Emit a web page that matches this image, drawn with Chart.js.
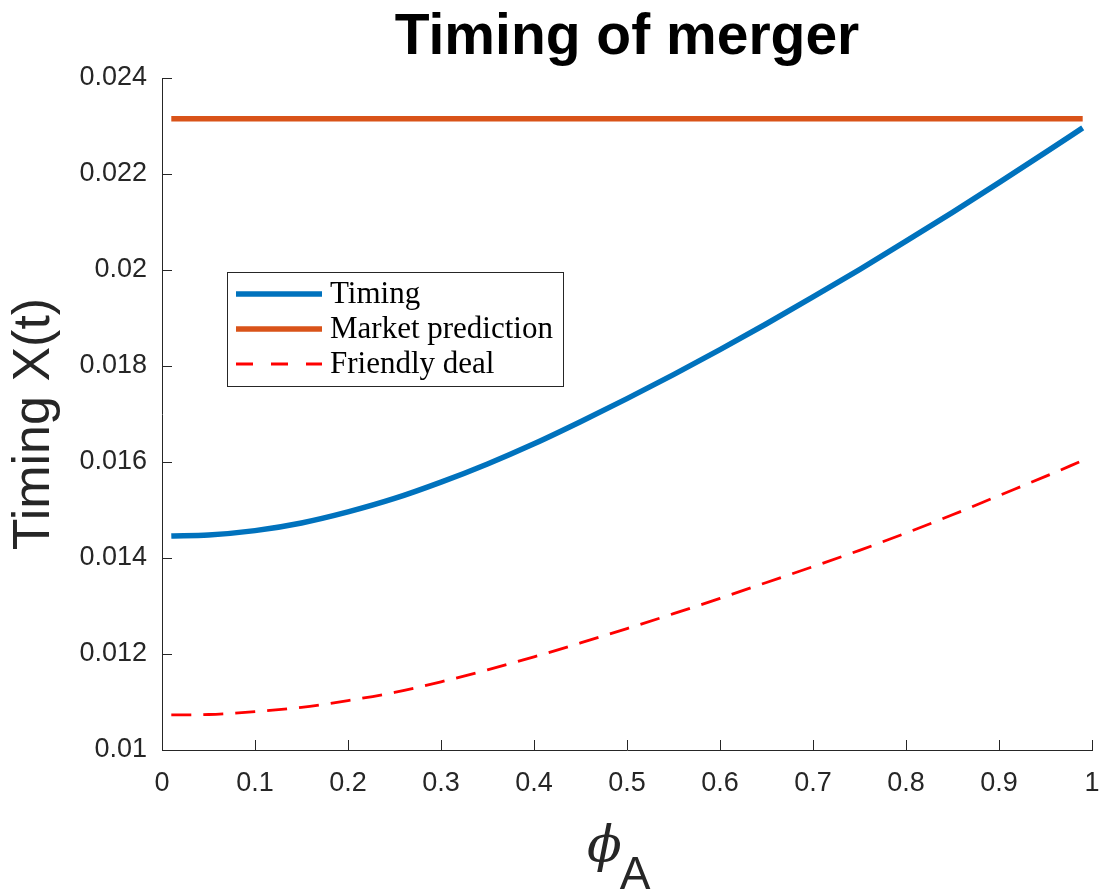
<!DOCTYPE html>
<html>
<head>
<meta charset="utf-8">
<script src="https://cdn.jsdelivr.net/npm/chart.js@4/dist/chart.umd.min.js"></script>
<style>
  html, body { margin: 0; padding: 0; background: #fff; }
  #wrap { width: 1102px; height: 890px; }
</style>
</head>
<body>
<div id="wrap"><canvas id="c" width="1102" height="890"></canvas></div>
<script>
// Bargaining power of the acquirer
const phiA = [0.01, 0.05, 0.1, 0.15, 0.2, 0.25, 0.3, 0.35, 0.4, 0.45, 0.5,
              0.55, 0.6, 0.65, 0.7, 0.75, 0.8, 0.85, 0.9, 0.95, 0.99];

// Merger threshold X(t) for each case
const timing = [0.01446, 0.01448, 0.01457, 0.01473, 0.01496, 0.01524, 0.01558, 0.01596, 0.01638, 0.01684, 0.01732,
                0.01782, 0.01834, 0.01888, 0.01944, 0.02001, 0.02060, 0.02120, 0.02182, 0.02245, 0.02296];
const marketPrediction = [0.02315, 0.02315, 0.02315, 0.02315, 0.02315, 0.02315, 0.02315, 0.02315, 0.02315, 0.02315, 0.02315,
                          0.02315, 0.02315, 0.02315, 0.02315, 0.02315, 0.02315, 0.02315, 0.02315, 0.02315, 0.02315];
const friendlyDeal = [0.01073, 0.01074, 0.01080, 0.01089, 0.01103, 0.01120, 0.01142, 0.01167, 0.01194, 0.01223, 0.01253,
                      0.01284, 0.01316, 0.01349, 0.01382, 0.01416, 0.01452, 0.01490, 0.01530, 0.01570, 0.01603];

// Axis ticks
const xTicks = [0, 0.1, 0.2, 0.3, 0.4, 0.5, 0.6, 0.7, 0.8, 0.9, 1];
const yTicks = [0.01, 0.012, 0.014, 0.016, 0.018, 0.02, 0.022, 0.024];
const yTickLabels = ['0.01', '0.012', '0.014', '0.016', '0.018', '0.02', '0.022', '0.024'];

const AXIS_COLOR = '#262626';
const SANS = '"Liberation Sans", Arial, Helvetica, sans-serif';

const toPoints = ys => phiA.map((x, i) => ({ x: x, y: ys[i] }));

// Tick marks pointing into the plot area, drawn on the left and bottom axes only
const innerTicks = {
  id: 'innerTicks',
  afterDatasetsDraw(chart) {
    const { ctx, chartArea: a, scales: { x, y } } = chart;
    const len = 10;
    ctx.save();
    ctx.strokeStyle = AXIS_COLOR;
    ctx.lineWidth = 1;
    ctx.beginPath();
    xTicks.forEach(v => {
      const px = Math.round(x.getPixelForValue(v)) + 0.5;
      ctx.moveTo(px, a.bottom);
      ctx.lineTo(px, a.bottom - len);
    });
    yTicks.forEach(v => {
      const py = Math.round(y.getPixelForValue(v)) + 0.5;
      ctx.moveTo(a.left, py);
      ctx.lineTo(a.left + len, py);
    });
    ctx.stroke();
    ctx.restore();
  }
};

// Boxed legend placed inside the plot area
const boxLegend = {
  id: 'boxLegend',
  afterDraw(chart) {
    const { ctx, chartArea: a } = chart;
    const left = a.left + 65;
    const top = a.top + 194;
    const w = 336, h = 114;
    ctx.save();
    ctx.fillStyle = '#fff';
    ctx.fillRect(left, top, w, h);
    ctx.strokeStyle = AXIS_COLOR;
    ctx.lineWidth = 1;
    ctx.strokeRect(Math.round(left) + 0.5, Math.round(top) + 0.5, w, h);
    ctx.font = '31px "Liberation Serif", "Times New Roman", serif';
    ctx.textBaseline = 'middle';
    ctx.fillStyle = '#000';
    chart.data.datasets.forEach((ds, i) => {
      const rowY = top + 22 + i * 35;
      ctx.beginPath();
      ctx.strokeStyle = ds.borderColor;
      ctx.lineWidth = ds.borderWidth;
      ctx.setLineDash(ds.borderDash && ds.borderDash.length ? [17, 18] : []);
      ctx.moveTo(left + 9, rowY);
      ctx.lineTo(left + 95, rowY);
      ctx.stroke();
      ctx.setLineDash([]);
      ctx.fillText(ds.label, left + 103, rowY + 1);
    });
    ctx.restore();
  }
};

// Axis titles: rotated y label and phi with subscript A under the x axis
const axisTitles = {
  id: 'axisTitles',
  afterDraw(chart) {
    const { ctx, chartArea: a } = chart;
    ctx.save();
    ctx.fillStyle = AXIS_COLOR;

    ctx.save();
    ctx.translate(35, (a.top + a.bottom) / 2 + 10);
    ctx.rotate(-Math.PI / 2);
    ctx.textAlign = 'center';
    ctx.textBaseline = 'middle';
    ctx.font = '52px ' + SANS;
    ctx.fillText('Timing X(t)', 0, 0);
    ctx.restore();

    const cx = (a.left + a.right) / 2;
    ctx.textBaseline = 'alphabetic';
    ctx.textAlign = 'left';
    ctx.font = 'italic 51px "DejaVu Serif", serif';
    const phiW = ctx.measureText('\u03D5').width;
    ctx.fillText('\u03D5', cx - 40, 861);
    ctx.font = '46px ' + SANS;
    ctx.fillText('A', cx - 40 + phiW - 2, 889);
    ctx.restore();
  }
};

new Chart(document.getElementById('c'), {
  type: 'line',
  data: {
    datasets: [
      { label: 'Timing', data: toPoints(timing), borderColor: '#0072BD', borderWidth: 5.5,
        pointRadius: 0, cubicInterpolationMode: 'monotone', fill: false },
      { label: 'Market prediction', data: toPoints(marketPrediction), borderColor: '#D95319', borderWidth: 5.5,
        pointRadius: 0, fill: false },
      { label: 'Friendly deal', data: toPoints(friendlyDeal), borderColor: '#FF0000', borderWidth: 2.8,
        borderDash: [20, 12], pointRadius: 0, cubicInterpolationMode: 'monotone', fill: false }
    ]
  },
  options: {
    responsive: false,
    animation: false,
    layout: { padding: { left: 0, right: 10, top: 0, bottom: 0 } },
    plugins: {
      legend: { display: false },
      tooltip: { enabled: false },
      title: {
        display: true,
        text: 'Timing of merger',
        fullSize: false,
        color: '#000',
        font: { family: SANS, size: 57, weight: 'bold', lineHeight: 1 },
        padding: { top: 10, bottom: 11 }
      }
    },
    scales: {
      x: {
        type: 'linear',
        min: 0, max: 1,
        afterBuildTicks: s => { s.ticks = xTicks.map(v => ({ value: v })); },
        afterFit: s => { s.height = 140; s.paddingLeft = 0; s.paddingRight = 0; },
        grid: { display: true, drawOnChartArea: false, drawTicks: false },
        border: { display: true, color: AXIS_COLOR, width: 1 },
        ticks: {
          color: AXIS_COLOR, padding: 17, maxRotation: 0, autoSkip: false,
          font: { family: SANS, size: 27 },
          callback: v => String(v)
        }
      },
      y: {
        type: 'linear',
        min: 0.01, max: 0.024,
        afterBuildTicks: s => { s.ticks = yTicks.map(v => ({ value: v })); },
        afterFit: s => { s.width = 162; s.paddingTop = 0; s.paddingBottom = 0; },
        grid: { display: true, drawOnChartArea: false, drawTicks: false },
        border: { display: true, color: AXIS_COLOR, width: 1 },
        ticks: {
          color: AXIS_COLOR, padding: 15, autoSkip: false,
          font: { family: SANS, size: 27 },
          callback: (v, i) => yTickLabels[i]
        }
      }
    }
  },
  plugins: [innerTicks, boxLegend, axisTitles]
});
</script>
</body>
</html>
